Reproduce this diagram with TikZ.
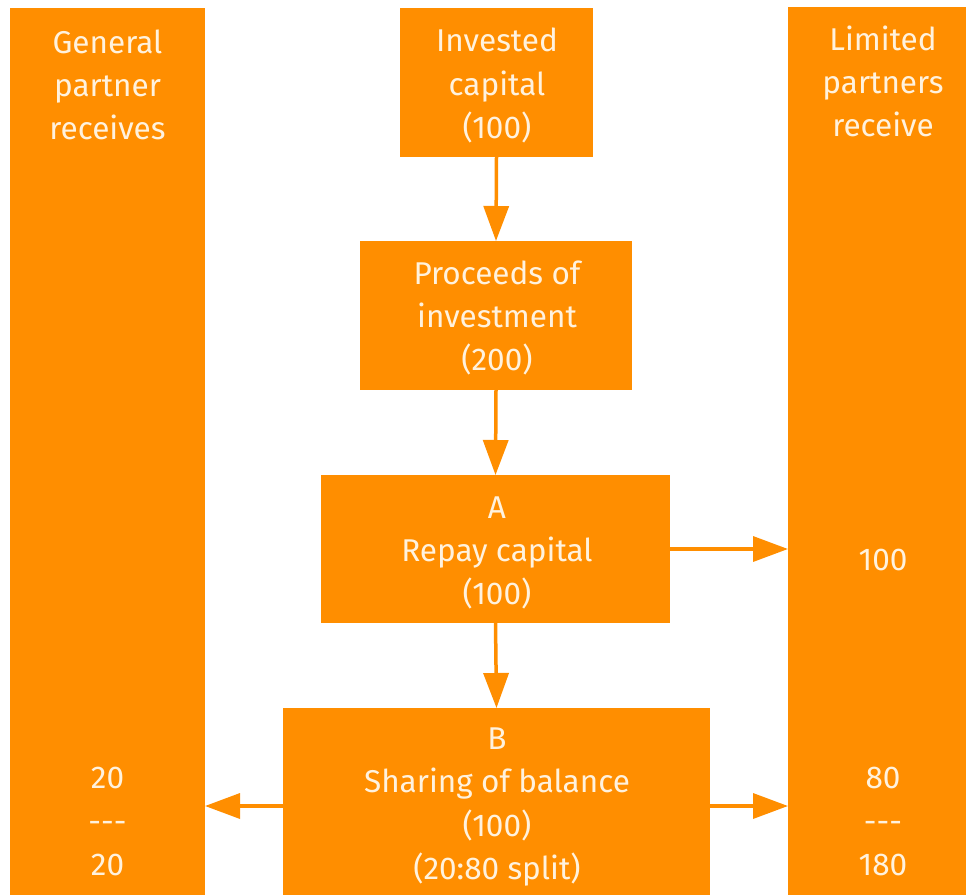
\documentclass[tikz,border=0pt]{standalone}
\usepackage{fontspec}
\setmainfont{Fira Sans}
\usetikzlibrary{arrows.meta}
\definecolor{org}{RGB}{255,142,0}
\definecolor{txt}{RGB}{255,242,222}
\begin{document}
\begin{tikzpicture}[x=1pt,y=-1pt,
  box/.style={fill=org, draw=none, inner sep=0pt, outer sep=0pt, anchor=north west},
  lbl/.style={text=txt, align=center, font=\fontsize{31.5}{43.3}\selectfont, inner sep=0pt},
  arr/.style={draw=org, line width=3.5pt, -{Triangle[length=35pt,width=25pt]}}]
\useasboundingbox (0,0) rectangle (966,894);
\clip (0,0) rectangle (966,894);
% columns
\node[box, minimum width=195pt, minimum height=900pt] (gp) at (10,8) {};
\node[box, minimum width=195pt, minimum height=900pt] (lp) at (788,7) {};
% flow boxes
\node[box, minimum width=193pt, minimum height=149pt] (inv) at (400,8) {};
\node[box, minimum width=272pt, minimum height=149pt] (proc) at (360,241) {};
\node[box, minimum width=349pt, minimum height=148pt] (rep) at (321,475) {};
\node[box, minimum width=427pt, minimum height=200pt] (shr) at (283,708) {};
% texts
\node[lbl] (gpt) at (107.5,85) {General\\partner\\receives};
\node[lbl] (lpt) at (883,81.5) {Limited\\partners\\receive};
\node[lbl] (invt) at (497,85.5) {Invested\\capital\\(100)};
\node[lbl] (proct) at (497,318) {Proceeds of\\investment\\(200)};
\node[lbl] (rept) at (497,553) {A\\Repay capital\\(100)};
\node[lbl] (shrt) at (497,807) {B\\Sharing of balance\\(100)\\(20:80 split)};
\node[lbl] (gpv) at (107.5,821.5) {20\\-{}-{}-\\20};
\node[lbl] (lpa) at (883,560) {100};
\node[lbl] (lpv) at (883,821.5) {80\\-{}-{}-\\180};
% connectors
\draw[arr] (inv.south) -- (proc.north);
\draw[arr] (proc.south) -- (rep.north);
\draw[arr] (rep.south) -- (shr.north);
\draw[arr] (rep.east |- 0,549) -- (lp.west |- 0,549);
\draw[arr] (shr.west |- 0,806) -- (gp.east |- 0,806);
\draw[arr] (shr.east |- 0,806) -- (lp.west |- 0,806);
\end{tikzpicture}
\end{document}
